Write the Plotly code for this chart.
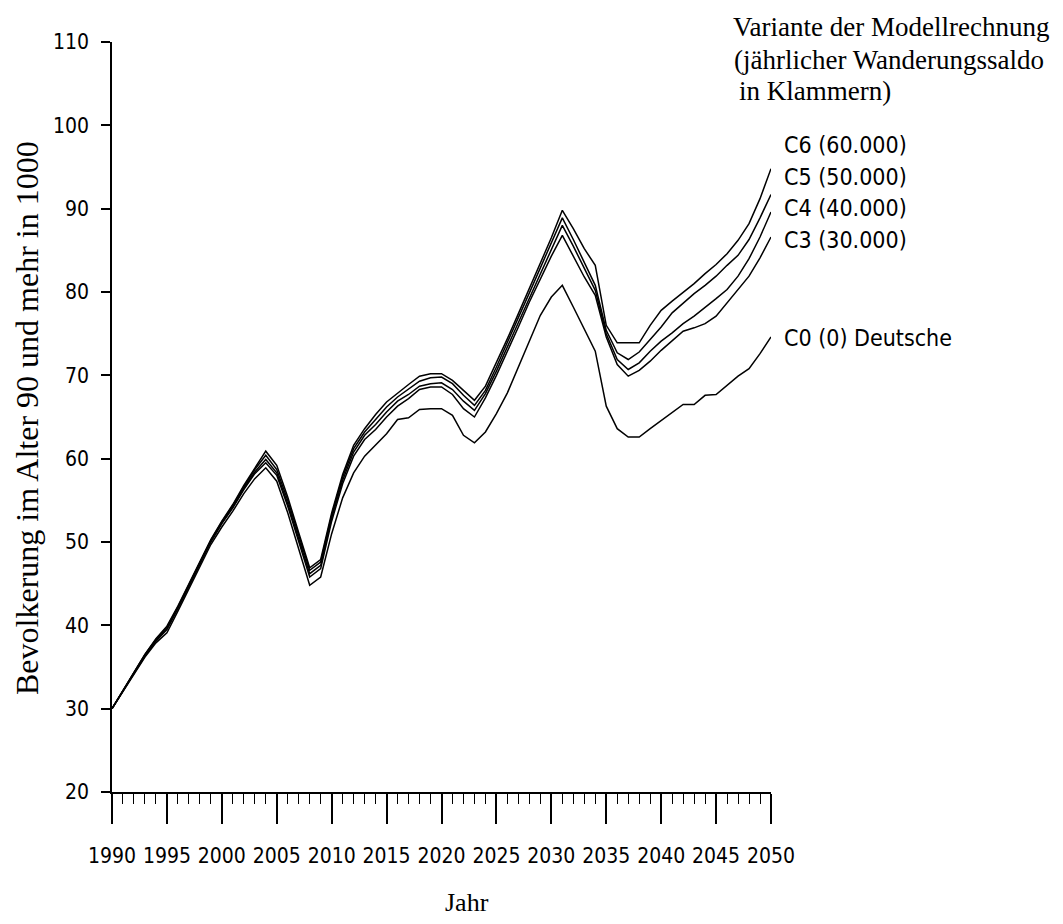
import plotly.graph_objects as go

years = list(range(1990, 2051))

c6 = [30.0, 32.2, 34.4, 36.5, 38.4, 39.9, 42.3, 44.9, 47.6, 50.3,
      52.5, 54.5, 56.8, 58.9, 60.9, 59.2, 55.4, 51.1, 46.9, 47.9,
      53.5, 58.1, 61.6, 63.6, 65.3, 66.8, 67.9, 68.9, 69.9, 70.2,
      70.2, 69.4, 68.2, 67.0, 68.7, 71.5, 74.4, 77.4, 80.4, 83.4,
      86.5, 89.8, 87.6, 85.2, 83.2, 76.0, 73.9, 73.9, 73.9, 76.0,
      77.8, 78.9, 79.9, 81.0, 82.2, 83.3, 84.6, 86.2, 88.2, 91.2, 94.8]
c5 = [30.0, 32.2, 34.4, 36.5, 38.3, 39.8, 42.2, 44.8, 47.5, 50.2,
      52.4, 54.4, 56.6, 58.7, 60.4, 58.7, 55.0, 50.7, 46.6, 47.6,
      53.2, 57.8, 61.2, 63.2, 64.7, 66.2, 67.4, 68.3, 69.3, 69.7,
      69.8, 69.0, 67.6, 66.4, 68.2, 71.0, 73.9, 76.9, 79.9, 82.9,
      85.8, 88.9, 86.3, 83.6, 80.8, 75.4, 72.7, 71.9, 72.8, 74.3,
      75.8, 77.5, 78.7, 79.8, 80.8, 81.9, 83.2, 84.4, 86.3, 88.9, 91.7]
c4 = [30.0, 32.2, 34.3, 36.4, 38.2, 39.6, 42.1, 44.7, 47.4, 50.1,
      52.3, 54.2, 56.4, 58.4, 59.9, 58.3, 54.6, 50.3, 46.2, 47.2,
      52.9, 57.4, 60.8, 62.8, 64.1, 65.6, 66.9, 67.7, 68.7, 69.0,
      69.1, 68.3, 66.9, 65.8, 67.8, 70.5, 73.4, 76.4, 79.4, 82.3,
      85.1, 88.0, 85.5, 82.8, 80.2, 75.0, 71.9, 70.7, 71.5, 72.9,
      74.1, 75.1, 76.2, 77.1, 78.1, 79.2, 80.3, 81.9, 84.0, 86.6, 89.6]
c3 = [30.0, 32.1, 34.3, 36.3, 38.1, 39.5, 42.0, 44.6, 47.3, 50.0,
      52.2, 54.1, 56.3, 58.2, 59.5, 58.0, 54.3, 50.0, 45.8, 46.8,
      52.5, 57.0, 60.3, 62.3, 63.5, 65.0, 66.3, 67.2, 68.3, 68.6,
      68.6, 67.7, 66.0, 65.0, 67.3, 70.0, 72.8, 75.8, 78.8, 81.6,
      84.3, 86.8, 84.3, 81.8, 79.6, 74.6, 71.3, 69.9, 70.6, 71.7,
      73.0, 74.2, 75.3, 75.7, 76.2, 77.1, 78.7, 80.3, 81.9, 84.1, 86.6]
c0 = [30.0, 32.1, 34.2, 36.2, 37.9, 39.1, 41.7, 44.4, 47.1, 49.7,
      51.8, 53.7, 55.8, 57.6, 58.9, 57.3, 53.5, 49.0, 44.8, 45.8,
      51.0, 55.3, 58.3, 60.3, 61.7, 63.0, 64.7, 64.9, 65.9, 66.0,
      66.0, 65.2, 62.8, 61.9, 63.2, 65.4, 67.9, 71.0, 74.0, 77.2,
      79.4, 80.8, 78.2, 75.6, 72.9, 66.3, 63.6, 62.6, 62.6, 63.6,
      64.6, 65.6, 66.5, 66.5, 67.6, 67.7, 68.8, 69.9, 70.8, 72.6, 74.6]

series_labels = ["C6 (60.000)", "C5 (50.000)", "C4 (40.000)", "C3 (30.000)", "C0 (0) Deutsche"]
legend_lines = ["Variante der Modellrechnung", "(jährlicher Wanderungssaldo", "in Klammern)"]
y_title = "Bevolkerung im Alter 90 und mehr in 1000"
x_title = "Jahr"

SANS = "Liberation Sans Narrow, DejaVu Sans Condensed, Liberation Sans, sans-serif"
SERIF = "Liberation Serif, DejaVu Serif, serif"

# page body has an 8px margin; figure is sized to fit inside the 1063x924 window
OFF = 8
W, H = 1063 - OFF, 924 - OFF
PLOT_X0, PLOT_X1 = 112, 771      # window pixels of the plot area
PLOT_Y0, PLOT_Y1 = 42, 792
L = PLOT_X0 - OFF
T = PLOT_Y0 - OFF
R = W - (PLOT_X1 - OFF)
B = H - (PLOT_Y1 - OFF)
PW, PH = PLOT_X1 - PLOT_X0, PLOT_Y1 - PLOT_Y0


def px(x):
    return (x - PLOT_X0) / PW


def py(y):
    return (PLOT_Y1 - y) / PH


fig = go.Figure()
for name, vals in zip(series_labels, [c6, c5, c4, c3, c0]):
    fig.add_trace(go.Scatter(x=years, y=vals, mode="lines", name=name,
                             line=dict(color="black", width=1.5), showlegend=False))

ann = []
label_y = [145, 177, 208, 240, 338]
for txt, yy in zip(series_labels, label_y):
    ann.append(dict(text=txt, x=px(782), y=py(yy), xref="paper", yref="paper",
                    xanchor="left", yanchor="middle", showarrow=False,
                    font=dict(family=SANS, size=23, color="black")))
leg_pos = [(731, 27), (732, 60), (737, 91)]
for txt, (xx, yy) in zip(legend_lines, leg_pos):
    ann.append(dict(text=txt, x=px(xx), y=py(yy), xref="paper", yref="paper",
                    xanchor="left", yanchor="middle", showarrow=False,
                    font=dict(family=SERIF, size=27, color="black")))
ann.append(dict(text=y_title, x=px(27), y=py(418), xref="paper", yref="paper",
                xanchor="center", yanchor="middle", textangle=-90, showarrow=False,
                font=dict(family=SERIF, size=32, color="black")))
ann.append(dict(text=x_title, x=px(467), y=py(903), xref="paper", yref="paper",
                xanchor="center", yanchor="middle", showarrow=False,
                font=dict(family=SERIF, size=26, color="black")))

fig.update_layout(
    width=W, height=H,
    margin=dict(l=L, r=R, t=T, b=B),
    paper_bgcolor="white", plot_bgcolor="white",
    annotations=ann,
    xaxis=dict(range=[1990, 2050], tick0=1990, dtick=5, showgrid=False, zeroline=False,
               showline=True, linecolor="black", linewidth=1.5,
               ticks="outside", ticklen=30, tickwidth=1.5, tickcolor="black",
               ticklabelstandoff=14,
               minor=dict(dtick=1, ticks="outside", ticklen=10, tickwidth=1.2, tickcolor="black"),
               tickfont=dict(family=SANS, size=21, color="black")),
    yaxis=dict(range=[20, 110], tick0=20, dtick=10, showgrid=False, zeroline=False,
               showline=True, linecolor="black", linewidth=1.5,
               ticks="outside", ticklen=9, tickwidth=1.5, tickcolor="black",
               ticklabelstandoff=8,
               tickfont=dict(family=SANS, size=21, color="black")),
)

fig.write_html("out.html")
